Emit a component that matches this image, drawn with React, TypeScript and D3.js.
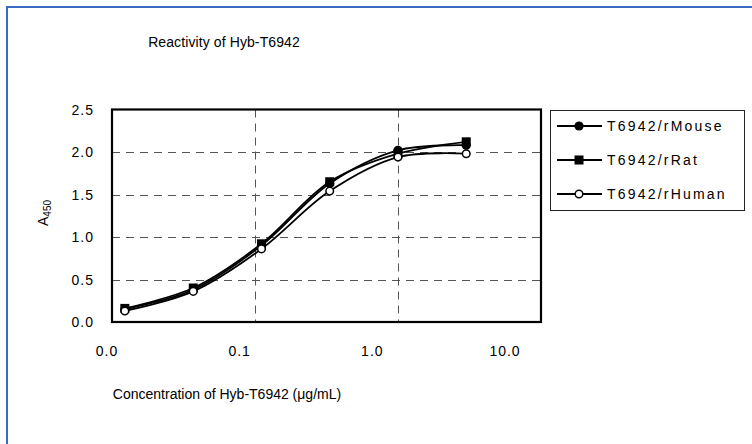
import * as d3 from 'd3';
import React from 'react';

// concentrations (ug/mL), 3-fold dilution series
const concentrations = [0.0123, 0.037, 0.111, 0.333, 1.0, 3.0];

const mouse = [0.15, 0.38, 0.9, 1.63, 2.02, 2.08];
const rat = [0.16, 0.4, 0.92, 1.65, 1.98, 2.12];
const human = [0.13, 0.36, 0.86, 1.54, 1.94, 1.98];

const seriesNames = ['T6942/rMouse', 'T6942/rRat', 'T6942/rHuman'];
const yTicks = [0, 0.5, 1.0, 1.5, 2.0, 2.5];
const xTicks = [0.01, 0.1, 1, 10];
const xTickLabels = ['0.0', '0.1', '1.0', '10.0'];

const FONT = '"Liberation Sans", Arial, sans-serif';

const App = () => {
  const width = 752;
  const height = 444;
  const left = 112;
  const right = 541;
  const top = 109.5;
  const bottom = 322;

  const x = d3.scaleLog().domain([0.01, 10]).range([left, right]);
  const y = d3.scaleLinear().domain([0, 2.5]).range([bottom, top]);
  // excel draws the category labels a bit off the gridlines
  const xLabel = d3.scaleLog().domain([0.01, 10]).range([107, 505]);

  const line = d3
    .line<number>()
    .x((_, i) => x(concentrations[i]))
    .y((d) => y(d))
    .curve(d3.curveCatmullRom.alpha(0.5));

  const series = [
    { name: seriesNames[0], values: mouse, marker: 'circle' },
    { name: seriesNames[1], values: rat, marker: 'square' },
    { name: seriesNames[2], values: human, marker: 'open' },
  ];

  const marker = (kind: string, cx: number, cy: number, key: any) => {
    if (kind === 'square')
      return <rect key={key} x={cx - 4.5} y={cy - 4.5} width={9} height={9} fill="#000" />;
    if (kind === 'open')
      return <circle key={key} cx={cx} cy={cy} r={3.8} fill="#fff" stroke="#000" strokeWidth={1.5} />;
    return <circle key={key} cx={cx} cy={cy} r={4.6} fill="#000" />;
  };

  const legendX = 550;
  const legendY = 110;
  const legendRow = 34;

  return (
    <svg
      width={width}
      height={height}
      style={{ position: 'absolute', left: 0, top: 0, background: '#fff' }}
      fontFamily={FONT}
    >
      {/* outer chart border */}
      <path d={`M7,${height + 5} V7 H${width + 5}`} fill="none" stroke="#3a6bc4" strokeWidth={2} />

      <text x={224} y={47} textAnchor="middle" fontSize={14} letterSpacing={0.1}>
        Reactivity of Hyb-T6942
      </text>

      {/* gridlines */}
      <g stroke="#555" strokeWidth={1} strokeDasharray="8,6">
        {yTicks
          .filter((t) => t > 0 && t < 2.5)
          .map((t) => (
            <line key={t} x1={left} x2={right} y1={Math.round(y(t)) + 0.5} y2={Math.round(y(t)) + 0.5} />
          ))}
        {xTicks
          .filter((t) => t > 0.01 && t < 10)
          .map((t) => (
            <line key={t} x1={Math.round(x(t)) + 0.5} x2={Math.round(x(t)) + 0.5} y1={top} y2={bottom} />
          ))}
      </g>

      {/* series */}
      {series.map((s) => (
        <g key={s.name}>
          <path d={line(s.values) || ''} fill="none" stroke="#000" strokeWidth={1.8} />
          {s.values.map((v, i) => marker(s.marker, x(concentrations[i]), y(v), i))}
        </g>
      ))}

      {/* plot frame */}
      <rect x={left} y={top} width={right - left} height={bottom - top} fill="none" stroke="#000" strokeWidth={2.2} />

      {/* y axis labels */}
      <g fontSize={14} textAnchor="end">
        {yTicks.map((t) => (
          <text key={t} x={94} y={y(t) + 5} letterSpacing={1}>
            {t.toFixed(1)}
          </text>
        ))}
      </g>
      <text transform={`translate(48,213) rotate(-90)`} fontSize={14} textAnchor="middle">
        A<tspan fontSize={10} dy={3}>450</tspan>
      </text>

      {/* x axis labels */}
      <g fontSize={14} textAnchor="middle">
        {xTicks.map((t, i) => (
          <text key={t} x={xLabel(t)} y={356} letterSpacing={1}>
            {xTickLabels[i]}
          </text>
        ))}
      </g>
      <text x={227} y={399} textAnchor="middle" fontSize={14} letterSpacing={0}>
        Concentration of Hyb-T6942 (μg/mL)
      </text>

      {/* legend */}
      <rect x={legendX + 0.5} y={legendY + 0.5} width={194} height={100} fill="#fff" stroke="#222" strokeWidth={1} />
      {series.map((s, i) => {
        const cy = legendY + 16 + i * legendRow;
        return (
          <g key={s.name}>
            <line x1={557} x2={602} y1={cy} y2={cy} stroke="#000" strokeWidth={1.8} />
            {marker(s.marker, 579, cy, 'm')}
            <text x={607} y={cy + 5} fontSize={14} letterSpacing={2.2}>
              {s.name}
            </text>
          </g>
        );
      })}
    </svg>
  );
};

export default App;
